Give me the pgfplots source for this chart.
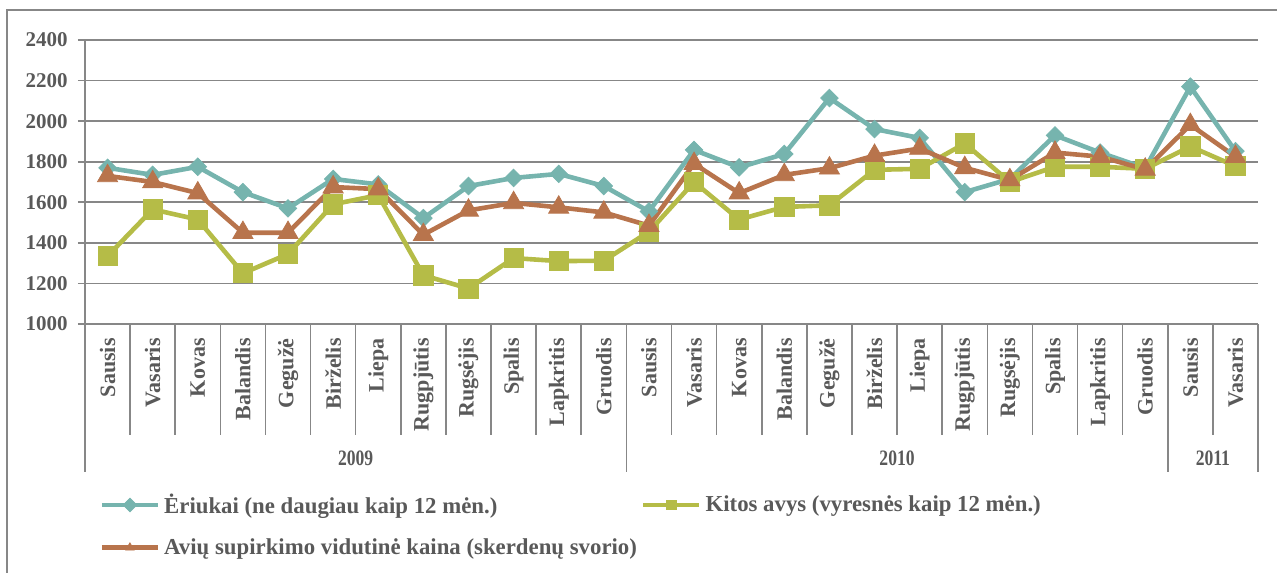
\documentclass[border=0pt]{standalone}
\usepackage{pgfplots}
\pgfplotsset{compat=1.18}
\usepackage{pgfplotstable}
\usepackage{fontspec}
\setmainfont{Liberation Serif}
\definecolor{tealc}{HTML}{76B4AE}
\definecolor{olivec}{HTML}{B5BC47}
\definecolor{brownc}{HTML}{B8744C}
\definecolor{gridc}{HTML}{878787}
\definecolor{txt}{HTML}{595959}

\pgfplotstableread{
x eri kit avi
0 1770 1335 1730
1 1735 1565 1700
2 1775 1515 1645
3 1650 1250 1450
4 1570 1345 1450
5 1715 1590 1675
6 1688 1635 1665
7 1522 1240 1440
8 1680 1175 1560
9 1720 1325 1597
10 1740 1310 1575
11 1680 1312 1550
12 1555 1455 1485
13 1858 1700 1790
14 1772 1515 1645
15 1838 1577 1735
16 2114 1585 1768
17 1961 1760 1830
18 1917 1765 1865
19 1650 1890 1770
20 1715 1700 1710
21 1930 1775 1845
22 1845 1775 1825
23 1768 1765 1762
24 2170 1875 1982
25 1852 1778 1825
}\data

\begin{document}
\begin{tikzpicture}[x=1pt,y=1pt]
\useasboundingbox (-42.5,-124) rectangle (596,162);
\clip (-42.5,-124) rectangle (596,162);
\draw[gridc, line width=0.8pt] (-39,157) rectangle (600,-130);
\begin{axis}[
  at={(0,0)}, anchor=south west,
  scale only axis, width=586.5pt, height=142pt,
  xmin=-0.5, xmax=25.5, ymin=1000, ymax=2400,
  ytick={1000,1200,...,2400},
  xtick={0,...,25},
  xticklabels={Sausis,Vasaris,Kovas,Balandis,Gegužė,Birželis,Liepa,Rugpjūtis,Rugsėjis,Spalis,Lapkritis,Gruodis,Sausis,Vasaris,Kovas,Balandis,Gegužė,Birželis,Liepa,Rugpjūtis,Rugsėjis,Spalis,Lapkritis,Gruodis,Sausis,Vasaris},
  ymajorgrids, grid style={gridc, line width=0.8pt},
  axis x line*=bottom, axis y line*=left,
  axis line style={gridc, line width=0.8pt},
  x tick style={draw=none},
  y tick style={gridc, line width=0.8pt},
  major tick length=3.5pt, tick align=outside,
  /pgf/number format/1000 sep={},
  /pgf/number format/assume math mode=true,
  yticklabel style={font=\bfseries\fontsize{10.5}{12}\selectfont, text=txt, inner sep=0pt, xshift=-5pt},
  xticklabel style={rotate=90, anchor=east, font=\bfseries\fontsize{11}{12}\selectfont, text=txt, inner sep=0pt, xshift=-3.5pt},
  clip=false,
  legend columns=2,
  legend cell align=left,
  legend style={at={(axis description cs:0.007,-0.568)}, anchor=north west, draw=none, fill=none,
    font=\bfseries\fontsize{11.4}{13}\selectfont, text=txt, row sep=7pt,
    /tikz/every even column/.append style={column sep=0pt}},
  legend image code/.code={\draw[#1, mark repeat=2, mark phase=2, mark size=2.4pt] plot coordinates {(0pt,0pt) (14pt,0pt) (28pt,0pt)};},
]
\addplot[tealc, line width=2.3pt, mark=square*, mark size=3.1pt, mark options={rotate=45, line width=0.4pt}] table[x=x,y=eri] {\data};
\addlegendentry{Ėriukai (ne daugiau kaip 12 mėn.)}
\addplot[olivec, line width=2.3pt, mark=square*, mark size=4.8pt, mark options={line width=0.4pt}] table[x=x,y=kit] {\data};
\addlegendentry{Kitos avys (vyresnės kaip 12 mėn.)}
\addplot[brownc, line width=2.3pt, mark=triangle*, mark size=5.8pt, mark options={line width=0.4pt}] table[x=x,y=avi] {\data};
\addlegendentry{Avių supirkimo vidutinė kaina (skerdenų svorio)}
\pgfplotsinvokeforeach{0,...,26}{
  \draw[gridc, line width=0.8pt] (axis cs:{#1-0.5},1000) -- ++(0pt,-55.5pt);
}
\pgfplotsinvokeforeach{-0.5,11.5,23.5,25.5}{
  \draw[gridc, line width=0.8pt] (axis cs:#1,1000) -- ++(0pt,-74pt);
}
\node[font=\bfseries\fontsize{11}{12}\selectfont, text=txt, xscale=0.8] at ([yshift=-67pt]axis cs:5.5,1000) {2009};
\node[font=\bfseries\fontsize{11}{12}\selectfont, text=txt, xscale=0.8] at ([yshift=-67pt]axis cs:17.5,1000) {2010};
\node[font=\bfseries\fontsize{11}{12}\selectfont, text=txt, xscale=0.8] at ([yshift=-67pt]axis cs:24.5,1000) {2011};
\end{axis}
\end{tikzpicture}
\end{document}
